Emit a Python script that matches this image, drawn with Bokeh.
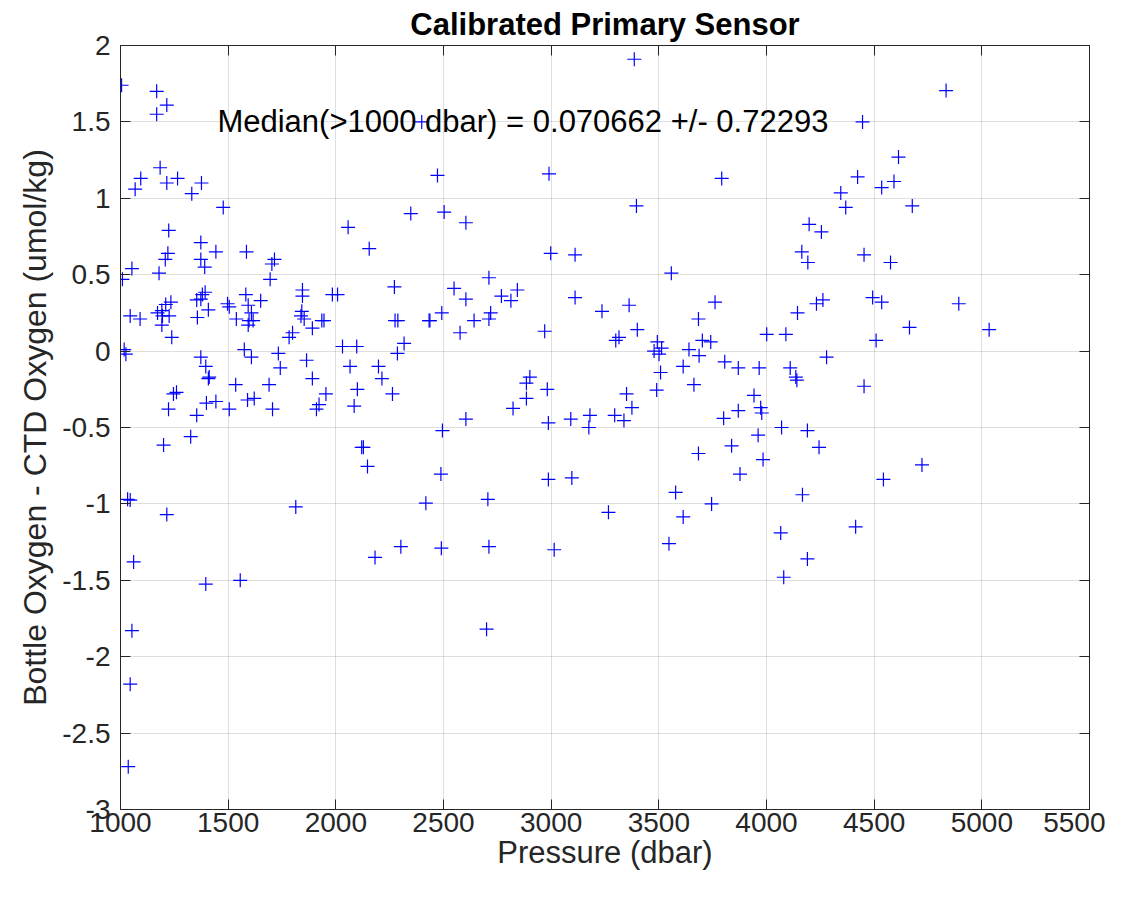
from bokeh.plotting import figure
from bokeh.models import Range1d, FixedTicker, LinearAxis, Label, ColumnDataSource
from bokeh.embed import file_html
from bokeh.resources import INLINE

title_text = "Calibrated Primary Sensor"
x_label = "Pressure (dbar)"
y_label = "Bottle Oxygen - CTD Oxygen (umol/kg)"
note_text = "Median(>1000 dbar) = 0.070662 +/- 0.72293"

x_ticks = [1000, 1500, 2000, 2500, 3000, 3500, 4000, 4500, 5000, 5500]
y_ticks = [-3, -2.5, -2, -1.5, -1, -0.5, 0, 0.5, 1, 1.5, 2]
y_tick_labels = ["-3", "-2.5", "-2", "-1.5", "-1", "-0.5", "0", "0.5", "1", "1.5", "2"]

pressure = [
    1005, 1168, 1215, 1168, 1184, 1094, 1068, 1215, 1265, 1331, 1376, 1477, 2399, 2057, 2348, 2155,
    1224, 1220, 1208, 1373, 1373, 1391, 1443, 1585, 1715, 1703, 1695, 1179, 1053, 1009, 2272, 1845,
    1845, 1984, 2008, 1380, 1393, 1354, 1373, 1234, 1210, 1192, 1195, 1172, 1226, 1045, 1091, 1192,
    1238, 1408, 1357, 1497, 1505, 1582, 1593, 1651, 1608, 1538, 1597, 1616, 1593, 1842, 1838, 1853,
    1891, 1935, 1945, 1799, 1783, 2275, 2288, 2433, 2317, 2286, 2031, 2097, 1017, 1025, 1575, 1373,
    1733, 1396, 1412, 1408, 1260, 1246, 1223, 1354, 1399, 1443, 1505, 1326, 1200, 1535, 1608, 1742,
    1690, 1590, 1621, 1706, 1864, 1891, 1954, 1922, 1910, 2066, 2198, 2214, 2100, 2085, 2263, 2120,
    2128, 2147, 2418, 1814, 1033, 1045, 1215, 1061, 2182, 2302, 1396, 1556, 1053, 1045, 1036, 2700,
    3386, 2472, 2990, 3792, 2503, 2604, 3396, 2998, 3111, 3558, 2711, 2549, 2604, 2769, 2813, 2843,
    3111, 3362, 3761, 2437, 2492, 2577, 2642, 2711, 2719, 2970, 3236, 3400, 3315, 3300, 3493, 3513,
    3478, 3501, 3640, 3684, 3702, 3741, 3687, 3613, 3806, 3869, 3508, 3490, 3663, 2901, 2885, 2982,
    2885, 2823, 2604, 2495, 2987, 3091, 3180, 3175, 3295, 3375, 3350, 3338, 3801, 3869, 3838, 3684,
    3877, 2488, 2987, 3096, 2706, 3266, 3578, 3613, 3745, 3547, 2490, 2711, 3014,
    4834, 4446, 4613, 4423, 4592, 4535, 4345, 4368, 4677, 4198, 4255, 4164, 4192, 4453, 4576, 4262,
    4232, 4493, 4535, 4893, 4144, 4001, 4090, 4509, 4664, 5034, 4279, 3966, 4110, 4136, 4141, 4453,
    3942, 3973, 3978, 4070, 4190, 3961, 4244, 3984, 4722, 4543, 4167, 4414, 4066, 4190, 4080,
]

residual = [
    1.74, 1.70, 1.61, 1.55, 1.20, 1.13, 1.06, 1.10, 1.13, 1.03, 1.10, 0.94, 1.50, 0.81, 0.90, 0.67,
    0.79, 0.64, 0.60, 0.71, 0.60, 0.55, 0.65, 0.65, 0.60, 0.57, 0.47, 0.51, 0.54, 0.47, 0.42, 0.40,
    0.36, 0.37, 0.37, 0.37, 0.385, 0.335, 0.34, 0.32, 0.305, 0.265, 0.23, 0.25, 0.23, 0.23, 0.21, 0.17,
    0.09, 0.27, 0.22, 0.31, 0.29, 0.37, 0.30, 0.33, 0.25, 0.21, 0.20, 0.20, 0.17, 0.26, 0.23, 0.21,
    0.15, 0.20, 0.20, 0.12, 0.09, 0.20, 0.20, 0.20, 0.05, -0.015, 0.03, 0.03, 0.01, -0.02, 0.01, -0.04,
    -0.015, -0.10, -0.17, -0.18, -0.27, -0.28, -0.38, -0.42, -0.34, -0.33, -0.38, -0.56, -0.615, -0.22, -0.04, -0.11,
    -0.22, -0.32, -0.31, -0.38, -0.06, -0.18, -0.28, -0.35, -0.38, -0.10, -0.10, -0.18, -0.25, -0.36, -0.28, -0.63,
    -0.63, -0.755, -0.995, -1.02, -0.97, -0.975, -1.07, -1.38, -1.35, -1.28, -1.525, -1.50, -1.83, -2.18, -2.72, -1.82,
    1.91, 1.15, 1.16, 1.13, 0.91, 0.84, 0.95, 0.64, 0.63, 0.51, 0.48, 0.41, 0.34, 0.36, 0.33, 0.40,
    0.35, 0.30, 0.32, 0.20, 0.25, 0.12, 0.20, 0.21, 0.25, 0.13, 0.26, 0.14, 0.09, 0.07, 0.06, 0.02,
    0.00, -0.02, 0.01, 0.21, 0.07, 0.06, -0.03, -0.10, -0.07, -0.11, -0.14, -0.255, -0.22, -0.17, -0.21, -0.25,
    -0.31, -0.375, -0.445, -0.52, -0.47, -0.445, -0.42, -0.50, -0.42, -0.37, -0.28, -0.455, -0.44, -0.39, -0.62, -0.67,
    -0.805, -0.805, -0.84, -0.83, -0.97, -1.055, -0.925, -1.085, -1.00, -1.26, -1.29, -1.28, -1.30,
    1.705, 1.50, 1.27, 1.14, 1.11, 1.07, 1.035, 0.94, 0.95, 0.83, 0.78, 0.65, 0.58, 0.63, 0.58, 0.335,
    0.31, 0.35, 0.32, 0.31, 0.25, 0.11, 0.11, 0.07, 0.155, 0.14, -0.04, -0.11, -0.11, -0.17, -0.19, -0.23,
    -0.29, -0.37, -0.405, -0.50, -0.52, -0.55, -0.63, -0.71, -0.745, -0.84, -0.94, -1.15, -1.19, -1.36, -1.48,
]

note_x = 1450
note_y = 1.5

FONT = "Liberation Sans"
DARK = "#262626"

p = figure(
    width=1105, height=887,
    x_range=Range1d(1000, 5500), y_range=Range1d(-3, 2),
    output_backend="svg", toolbar_location=None,
    min_border_left=120, min_border_right=16, min_border_top=37, min_border_bottom=78,
)
p.title.text = title_text
p.title.text_font = FONT
p.title.text_font_size = "31px"
p.title.text_font_style = "bold"
p.title.align = "center"
p.title.text_color = "black"
p.title.offset = 0
p.title.standoff = 8

p.xaxis.ticker = FixedTicker(ticks=x_ticks)
p.yaxis.ticker = FixedTicker(ticks=y_ticks)
p.yaxis.major_label_overrides = {t: s for t, s in zip(y_ticks, y_tick_labels)}
p.xaxis.axis_label = x_label
p.yaxis.axis_label = y_label

for ax in (p.xaxis[0], p.yaxis[0]):
    ax.major_tick_in = 10
    ax.major_tick_out = 0
    ax.minor_tick_line_color = None
    ax.axis_line_color = DARK
    ax.major_tick_line_color = DARK
    ax.major_label_text_font = FONT
    ax.major_label_text_font_size = "28px"
    ax.major_label_text_color = DARK
    ax.axis_label_text_font = FONT
    ax.axis_label_text_font_size = "32px"
    ax.axis_label_text_font_style = "normal"
    ax.axis_label_text_color = DARK
p.xaxis.axis_label_text_font_size = "31px"
p.xaxis.major_label_standoff = 3
p.xaxis.axis_label_standoff = 0
p.yaxis.major_label_standoff = 10
p.yaxis.axis_label_standoff = 6

top_ax = LinearAxis(ticker=FixedTicker(ticks=x_ticks), major_label_text_font_size="0px",
                    major_tick_in=10, major_tick_out=0, minor_tick_line_color=None,
                    axis_line_color=DARK, major_tick_line_color=DARK, major_label_standoff=0)
right_ax = LinearAxis(ticker=FixedTicker(ticks=y_ticks), major_label_text_font_size="0px",
                      major_tick_in=10, major_tick_out=0, minor_tick_line_color=None,
                      axis_line_color=DARK, major_tick_line_color=DARK, major_label_standoff=0)
p.add_layout(top_ax, "above")
p.add_layout(right_ax, "right")

p.grid.grid_line_color = DARK
p.grid.grid_line_alpha = 0.15
p.xgrid.ticker = FixedTicker(ticks=x_ticks)
p.ygrid.ticker = FixedTicker(ticks=y_ticks)
p.outline_line_color = DARK

src = ColumnDataSource(data=dict(x=pressure, y=residual))
p.scatter("x", "y", source=src, marker="cross", size=14, line_color="#0000ff", line_width=1.2)

p.add_layout(Label(x=note_x, y=note_y, text=note_text, text_font=FONT, text_font_size="31px",
                   text_baseline="middle", text_color="black"))

open("out.html", "w").write(file_html(p, INLINE))
